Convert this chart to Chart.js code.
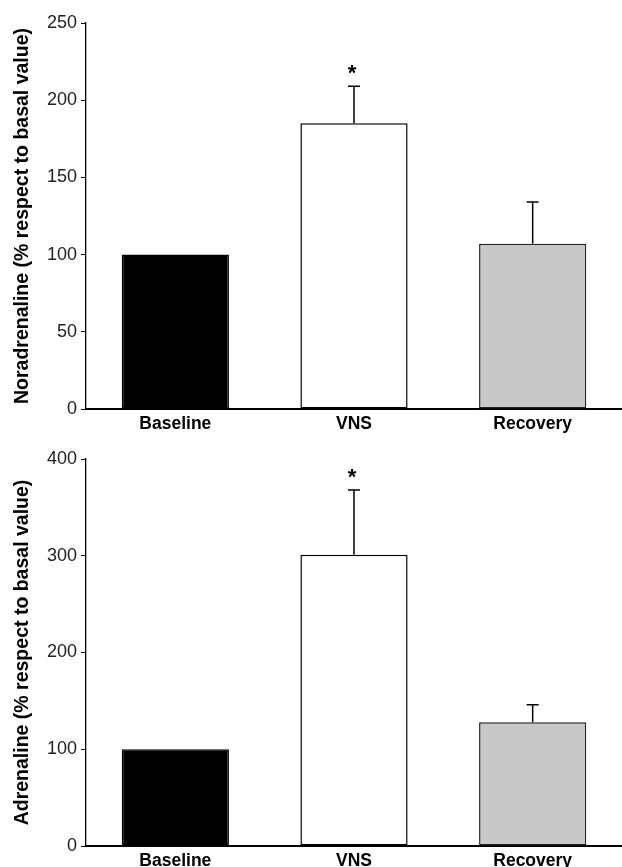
<!DOCTYPE html>
<html>
<head>
<meta charset="utf-8">
<script src="https://cdn.jsdelivr.net/npm/chart.js@4.4.1/dist/chart.umd.min.js"></script>
<style>
  body { margin: 0; background: #fff; width: 622px; height: 867px; overflow: hidden; position: relative; }
  canvas { position: absolute; left: 0; }
  #noradChart { top: 0; }
  #adrenChart { top: 433px; }
</style>
</head>
<body>
<canvas id="noradChart" width="622" height="433"></canvas>
<canvas id="adrenChart" width="622" height="434"></canvas>
<script>
const categories = ["Baseline", "VNS", "Recovery"];

const noradMeans = [100, 185, 107];
const noradSem = [0, 24, 27];
const noradTicks = [0, 50, 100, 150, 200, 250];

const adrenMeans = [100, 301, 128];
const adrenSem = [0, 67, 18];
const adrenTicks = [0, 100, 200, 300, 400];

// asterisco = diferencia significativa respecto al basal
const significant = [false, true, false];

const barColors = ["#000000", "#ffffff", "#c8c8c8"];
const FONT = "Arial, 'Liberation Sans', Helvetica, sans-serif";

// barras de error (solo hacia arriba) + asterisco
const errorBars = {
  id: "errorBars",
  afterDatasetsDraw(chart, args, opts) {
    const ctx = chart.ctx;
    const yScale = chart.scales.y;
    const meta = chart.getDatasetMeta(0);
    const means = chart.data.datasets[0].data;
    ctx.save();
    ctx.strokeStyle = "#000";
    ctx.lineWidth = 1.5;
    meta.data.forEach((bar, i) => {
      const sem = opts.sem[i];
      const yTop = yScale.getPixelForValue(means[i] + sem);
      if (sem > 0) {
        const yMean = yScale.getPixelForValue(means[i]);
        ctx.beginPath();
        ctx.moveTo(bar.x, yMean);
        ctx.lineTo(bar.x, yTop);
        ctx.moveTo(bar.x - 6, yTop);
        ctx.lineTo(bar.x + 6, yTop);
        ctx.stroke();
      }
      if (opts.stars[i]) {
        ctx.fillStyle = "#000";
        ctx.font = "bold 22px " + FONT;
        ctx.textAlign = "center";
        ctx.textBaseline = "top";
        ctx.fillText("*", bar.x - 2, yTop - 23);
      }
    });
    ctx.restore();
  },
};

function makeChart(canvasId, means, sem, ticks, title, areaTop, areaBottom) {
  const canvas = document.getElementById(canvasId);
  const padLeft = 6;
  const yMax = ticks[ticks.length - 1];

  return new Chart(canvas, {
    type: "bar",
    data: {
      labels: categories,
      datasets: [
        {
          data: means,
          backgroundColor: barColors,
          borderColor: ["#000", "#000", "#222"],
          borderWidth: 1.5,
          borderSkipped: false,
          categoryPercentage: 1,
          barPercentage: 0.6,
        },
      ],
    },
    options: {
      responsive: false,
      animation: false,
      layout: { padding: { top: areaTop, left: padLeft, right: 0, bottom: 0 } },
      plugins: {
        legend: { display: false },
        tooltip: { enabled: false },
        errorBars: { sem: sem, stars: significant },
      },
      scales: {
        x: {
          grid: { display: false, drawTicks: false },
          border: { display: true, color: "#000", width: 2 },
          ticks: {
            color: "#000",
            padding: 5,
            font: { family: FONT, size: 17.5, weight: "bold" },
          },
          afterFit(scale) {
            scale.height = canvas.height - areaBottom;
          },
        },
        y: {
          min: 0,
          max: yMax,
          afterBuildTicks(scale) {
            scale.ticks = ticks.map((v) => ({ value: v }));
          },
          grid: { drawOnChartArea: false, drawTicks: true, tickLength: 5, color: "#000" },
          border: { display: true, color: "#000", width: 1.3 },
          ticks: {
            color: "#222",
            padding: 4,
            font: { family: FONT, size: 18 },
          },
          title: {
            display: true,
            text: title,
            color: "#000",
            padding: { top: 5, bottom: 0 },
            font: { family: FONT, size: 19.5, weight: "bold" },
          },
          afterFit(scale) {
            scale.width = 86 - padLeft;
          },
        },
      },
    },
    plugins: [errorBars],
  });
}

makeChart("noradChart", noradMeans, noradSem, noradTicks,
  "Noradrenaline (% respect to basal value)", 23, 409);
makeChart("adrenChart", adrenMeans, adrenSem, adrenTicks,
  "Adrenaline (% respect to basal value)", 26, 413);
</script>
</body>
</html>
